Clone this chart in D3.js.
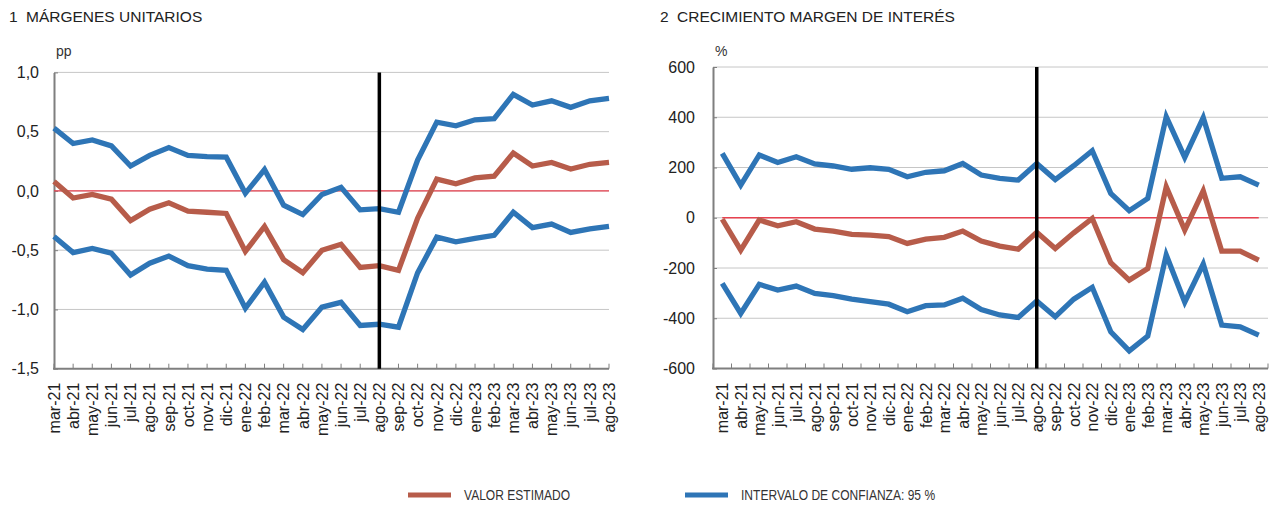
<!DOCTYPE html>
<html>
<head>
<meta charset="utf-8">
<script src="https://cdn.jsdelivr.net/npm/d3@7"></script>
<style>
  body { margin: 0; background: #fff; }
  svg  { font-family: "Liberation Sans", Arial, sans-serif; }
</style>
</head>
<body>
<svg id="chart" width="1271" height="507"></svg>
<script>
const months = ["mar-21","abr-21","may-21","jun-21","jul-21","ago-21","sep-21","oct-21","nov-21","dic-21",
                "ene-22","feb-22","mar-22","abr-22","may-22","jun-22","jul-22","ago-22","sep-22","oct-22",
                "nov-22","dic-22","ene-23","feb-23","mar-23","abr-23","may-23","jun-23","jul-23","ago-23"];

// panel 1: márgenes unitarios (pp)
const margUpper = [0.53,0.40,0.43,0.38,0.21,0.30,0.365,0.30,0.29,0.285,-0.02,0.18,-0.12,-0.20,-0.03,0.03,-0.16,-0.15,-0.18,0.26,
                   0.58,0.55,0.60,0.61,0.815,0.725,0.76,0.705,0.76,0.78];
const margEst   = [0.08,-0.06,-0.03,-0.07,-0.25,-0.155,-0.10,-0.17,-0.18,-0.19,-0.51,-0.30,-0.58,-0.69,-0.50,-0.45,-0.645,-0.63,-0.67,-0.23,
                   0.10,0.06,0.11,0.125,0.32,0.21,0.24,0.185,0.225,0.24];
const margLower = [-0.385,-0.52,-0.485,-0.525,-0.71,-0.61,-0.55,-0.63,-0.66,-0.67,-0.99,-0.77,-1.065,-1.17,-0.98,-0.94,-1.135,-1.125,-1.15,-0.69,
                   -0.39,-0.43,-0.40,-0.375,-0.18,-0.31,-0.28,-0.35,-0.32,-0.30];
const margTicks = [-1.5,-1.0,-0.5,0,0.5,1.0];

// panel 2: crecimiento margen de interés (%)
const crecUpper = [256,130,250,220,243,214,206,193,199,193,163,181,187,216,170,157,150,216,152,207,
                   267,97,28,77,402,240,398,157,163,130];
const crecEst   = [-6,-129,-9,-32,-16,-45,-53,-66,-69,-75,-102,-85,-78,-53,-93,-113,-125,-58,-122,-60,
                   -3,-179,-248,-202,123,-49,107,-133,-133,-169];
const crecLower = [-261,-381,-265,-288,-272,-301,-310,-324,-334,-344,-374,-350,-347,-320,-365,-387,-397,-331,-394,-324,
                   -277,-454,-530,-471,-148,-336,-184,-427,-434,-467];
const crecTicks = [-600,-400,-200,0,200,400,600];

const cutMonth = "ago-22";
const blue = "#2e75b6", brown = "#b75c4a", zeroRed = "#e8414f";

const svg = d3.select("#chart");

function drawPanel(p) {
  const g = svg.append("g");
  let x, pos, edges;
  if (p.band) {
    x = d3.scaleBand().domain(months).range([p.left, p.right]);
    pos = m => x(m) + x.bandwidth() / 2;
    edges = months.map(m => x(m)).concat([p.right]);
  } else {
    x = d3.scalePoint().domain(months).range([p.left, p.right]);
    pos = m => x(m);
    edges = months.map(m => x(m));
  }
  const y = d3.scaleLinear().domain(d3.extent(p.ticks)).range([p.bottom, p.top]);

  // gridlines
  g.selectAll(".grid")
    .data(p.ticks.filter(t => t !== p.ticks[0]))
    .enter().append("line")
      .attr("x1", p.left).attr("x2", p.right)
      .attr("y1", d => y(d)).attr("y2", d => y(d))
      .attr("stroke", "#c6c6c6").attr("stroke-width", 1);

  // y axis
  const yAxis = g.append("g")
      .attr("transform", `translate(${p.left},0)`)
      .call(d3.axisLeft(y).tickValues(p.ticks).tickSize(-4).tickSizeOuter(0)
              .tickPadding(p.labelGap).tickFormat(p.fmt));
  yAxis.select(".domain").attr("stroke", "#7f7f7f").attr("stroke-width", 2);
  yAxis.selectAll(".tick line").attr("stroke", "#7f7f7f");
  yAxis.selectAll("text").attr("font-size", 16).attr("fill", "#222")
      .style("font-family", '"Liberation Sans", Arial, sans-serif');

  // x axis line + inside ticks
  g.append("line")
      .attr("x1", p.left - 1).attr("x2", p.right)
      .attr("y1", p.bottom).attr("y2", p.bottom)
      .attr("stroke", "#7f7f7f").attr("stroke-width", 2);
  g.selectAll(".xt")
    .data(edges)
    .enter().append("line")
      .attr("x1", d => d).attr("x2", d => d)
      .attr("y1", p.bottom).attr("y2", p.bottom - 5)
      .attr("stroke", "#7f7f7f").attr("stroke-width", 1);

  g.selectAll(".xl")
    .data(months)
    .enter().append("text")
      .attr("transform", d => `translate(${pos(d)},${p.bottom + 14}) rotate(-90)`)
      .attr("dy", "0.36em")
      .attr("text-anchor", "end")
      .attr("font-size", 16)
      .attr("fill", "#222")
      .text(d => d);

  // zero reference line
  const line = d3.line().x((d, i) => pos(months[i])).y(d => y(d));
  g.append("path")
      .datum(months.map(() => 0))
      .attr("d", line)
      .attr("fill", "none").attr("stroke", zeroRed).attr("stroke-width", 1.4);

  // series
  [[p.upper, blue], [p.lower, blue], [p.est, brown]].forEach(([vals, col]) => {
    g.append("path")
        .datum(vals)
        .attr("d", line)
        .attr("fill", "none")
        .attr("stroke", col)
        .attr("stroke-width", 5.3)
        .attr("stroke-linejoin", "miter");
  });

  // vertical cut
  g.append("line")
      .attr("x1", pos(cutMonth)).attr("x2", pos(cutMonth))
      .attr("y1", p.top).attr("y2", p.bottom)
      .attr("stroke", "#000").attr("stroke-width", 3.5);

  // title + unit
  g.append("text").attr("x", p.titleX).attr("y", 22)
      .attr("font-size", 15.5).attr("fill", "#222").text(p.num);
  g.append("text").attr("x", p.titleX + 17).attr("y", 22)
      .attr("font-size", 15.5).attr("fill", "#222").text(p.title);
  g.append("text").attr("x", p.left + 2).attr("y", 56)
      .attr("font-size", 14).attr("fill", "#333").text(p.unit);
}

drawPanel({
  left: 54, right: 609, top: 72.4, bottom: 368.7, band: false,
  ticks: margTicks, fmt: d => d.toFixed(1).replace(".", ","), labelGap: 15,
  upper: margUpper, est: margEst, lower: margLower,
  titleX: 9, num: "1", title: "MÁRGENES UNITARIOS", unit: "pp"
});

drawPanel({
  left: 713, right: 1268, top: 67, bottom: 368.5, band: true,
  ticks: crecTicks, fmt: d => String(d), labelGap: 18,
  upper: crecUpper, est: crecEst, lower: crecLower,
  titleX: 660, num: "2", title: "CRECIMIENTO MARGEN DE INTERÉS", unit: "%"
});

// legend (condensed text, like the original)
const legend = [
  {label: "VALOR ESTIMADO", color: brown, x: 408},
  {label: "INTERVALO DE CONFIANZA: 95 %", color: blue, x: 685}
];
const lg = svg.append("g");
lg.selectAll("line")
  .data(legend)
  .enter().append("line")
    .attr("x1", d => d.x).attr("x2", d => d.x + 43)
    .attr("y1", 495).attr("y2", 495)
    .attr("stroke", d => d.color).attr("stroke-width", 5);
lg.selectAll("text")
  .data(legend)
  .enter().append("text")
    .attr("transform", d => `translate(${d.x + 56},500) scale(0.86,1)`)
    .attr("font-size", 14)
    .attr("fill", "#333")
    .text(d => d.label);
</script>
</body>
</html>
